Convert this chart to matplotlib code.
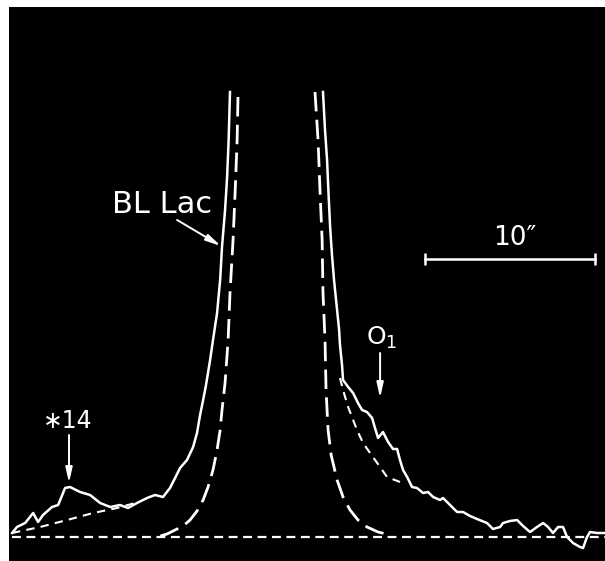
import matplotlib
matplotlib.use("Agg")
import matplotlib.pyplot as plt

# offsets in arcsec from the nucleus, intensity in arbitrary units
# observed profile, left side (west) and right side (east)
left_x = [-15.53, -15.24, -14.76, -14.29, -14.00, -13.71, -13.18, -12.82, -12.41, -12.12,
          -11.53, -10.94, -10.35, -9.76, -9.18, -8.71, -8.18, -7.59, -7.12, -6.65,
          -6.24, -5.94, -5.65, -5.24, -4.88, -4.65, -4.47, -4.29, -4.12, -3.88,
          -3.71, -3.47, -3.29, -3.18, -3.00, -2.88, -2.79, -2.71]
left_i = [0.4, 1.0, 1.4, 2.4, 1.5, 2.2, 3.0, 3.2, 4.9, 5.0,
          4.5, 4.2, 3.4, 3.0, 3.2, 2.9, 3.4, 3.9, 4.2, 4.0,
          4.9, 5.9, 6.9, 7.7, 9.0, 10.4, 12.2, 13.7, 15.2, 17.7,
          19.7, 22.4, 25.7, 29.0, 32.7, 36.0, 39.7, 44.5]

right_x = [2.76, 2.88, 3.00, 3.09, 3.18, 3.29, 3.41, 3.59, 3.71, 3.76,
           3.88, 3.94, 4.24, 4.53, 4.82,
           5.06, 5.35, 5.65, 5.82, 6.00, 6.29, 6.59, 6.88, 7.12, 7.29,
           7.47, 7.71, 8.00, 8.29, 8.65, 8.94, 9.24, 9.65, 9.82, 10.12,
           10.41, 10.65, 11.00, 11.41, 11.82, 12.41, 12.76, 13.18, 13.35, 13.76,
           14.18, 14.53, 14.94, 15.35, 15.71, 16.00, 16.29, 16.59, 16.88, 17.12,
           17.47, 17.88, 18.06, 18.29, 18.47, 18.88, 19.35]
right_i = [44.5, 40.7, 37.7, 34.2, 31.0, 28.2, 25.7, 22.7, 20.7, 19.2,
           17.2, 15.7, 15.0, 14.4, 13.4,
           12.7, 12.5, 11.9, 10.9, 9.9, 10.5, 9.5, 8.8, 8.8, 7.7,
           6.7, 6.0, 5.0, 4.9, 4.4, 4.5, 4.0, 3.7, 3.9, 3.4,
           2.9, 2.5, 2.5, 2.1, 1.8, 1.4, 0.8, 1.0, 1.4, 1.6,
           1.7, 1.1, 0.5, 1.0, 1.4, 1.0, 0.4, 1.0, 1.0, 0.0,
           -0.6, -1.0, -1.1, 0.0, 0.5, 0.4, 0.4]

# point spread function (long dashes)
psf_left_x = [-2.24, -2.29, -2.41, -2.53, -2.71, -2.82, -3.00, -3.18, -3.29, -3.47,
              -3.71, -4.00, -4.29, -4.65, -5.06, -5.47, -5.94, -6.41, -6.82]
psf_left_i = [44.0, 39.7, 34.4, 29.7, 24.4, 19.7, 15.4, 12.7, 10.7, 8.7,
              6.7, 5.0, 3.7, 2.6, 1.7, 1.1, 0.7, 0.3, 0.1]
psf_right_x = [2.29, 2.47, 2.59, 2.71, 2.76, 2.88, 2.94, 3.00, 3.06, 3.24,
               3.59, 3.94, 4.35, 4.82, 5.35, 6.00, 6.71]
psf_right_i = [44.5, 39.7, 34.4, 29.7, 24.4, 19.7, 14.7, 12.7, 10.7, 8.2,
               5.7, 4.0, 2.7, 1.7, 1.0, 0.5, 0.2]

# wings under star 14 and under O1 (short dashes)
s14_x = [-15.53, -13.88, -12.29, -10.76, -9.35, -8.29]
s14_i = [0.4, 1.0, 1.7, 2.4, 2.9, 3.4]
o1_x = [3.76, 3.94, 4.24, 4.76, 5.12, 5.53, 6.12, 6.53, 7.29]
o1_i = [15.9, 14.7, 13.0, 10.7, 9.4, 8.4, 7.0, 6.0, 5.5]

sky_x = [-15.53, 19.35]
sky_i = [0.0, 0.0]

scale_x = [8.76, 18.76]   # 10 arcsec bar
scale_i = [27.8, 27.8]

fig = plt.figure(figsize=(6.05, 5.61), dpi=100, facecolor="white")
ax = fig.add_axes([9 / 605, 0, 596 / 605, 554 / 561])
ax.set_facecolor("black")

ax.plot(left_x, left_i, color="white", lw=1.8, solid_joinstyle="round")
ax.plot(right_x, right_i, color="white", lw=1.8, solid_joinstyle="round")
ax.plot(psf_left_x, psf_left_i, color="white", lw=2.0, dashes=(7, 3))
ax.plot(psf_right_x, psf_right_i, color="white", lw=2.0, dashes=(7, 3))
ax.plot(s14_x, s14_i, color="white", lw=1.5, dashes=(4, 3))
ax.plot(o1_x, o1_i, color="white", lw=1.5, dashes=(4, 3))
ax.plot(sky_x, sky_i, color="white", lw=1.6, dashes=(4, 2.5))

ax.plot(scale_x, scale_i, color="white", lw=1.8, marker="|", markersize=8, markeredgewidth=1.8)
ax.text(14.06, 28.6, "10\u2033", color="white", fontsize=19, ha="center", va="bottom")

arrow = dict(arrowstyle="-|>,head_length=0.9,head_width=0.2", color="white", lw=1.4,
             shrinkA=0, shrinkB=0)
ax.text(-9.65, 32.4, "BL Lac", color="white", fontsize=22, ha="left", va="baseline")
ax.annotate("", xy=(-3.24, 29.1), xytext=(-5.82, 31.7), arrowprops=arrow)

ax.text(-12.24, 10.9, "\u221714", color="white", fontsize=17, ha="center", va="baseline")
ax.annotate("", xy=(-12.18, 5.4), xytext=(-12.18, 10.2), arrowprops=arrow)

ax.text(6.24, 19.2, "O$_1$", color="white", fontsize=18, ha="center", va="baseline")
ax.annotate("", xy=(6.12, 13.9), xytext=(6.12, 18.4), arrowprops=arrow)

ax.set_xlim(-15.71, 19.35)
ax.set_ylim(-2.4, 53.0)
ax.set_xticks([])
ax.set_yticks([])
for s in ax.spines.values():
    s.set_visible(False)

fig.savefig("out.png", dpi=100, facecolor="white")
